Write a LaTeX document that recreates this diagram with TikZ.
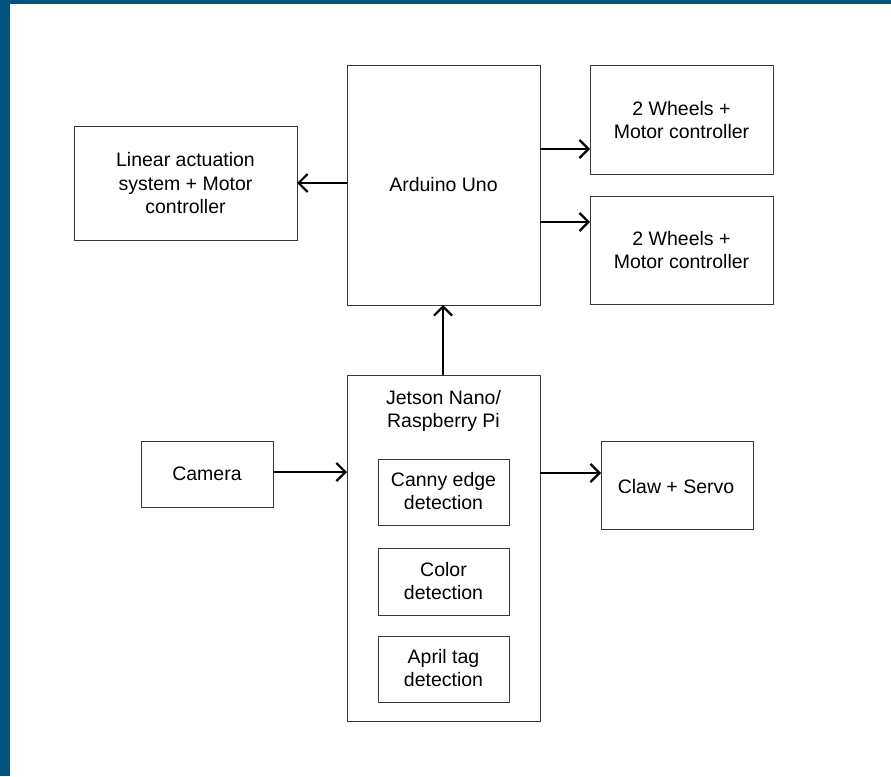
\documentclass[tikz,border=0pt]{standalone}
\usepackage{fontspec}
\setmainfont{Liberation Sans}
\usetikzlibrary{arrows.meta}
\definecolor{frameblue}{RGB}{4,84,128}
\definecolor{boxline}{RGB}{55,55,55}
\tikzset{
  blk/.style={draw=boxline, line width=0.9pt, fill=white},
  lbl/.style={font=\fontsize{19.5}{23.5}\selectfont, align=center, text=black, inner sep=0pt},
  conn/.style={line width=2.2pt, -{Straight Barb[length=9pt,width=18pt,line width=2.2pt]}}
}
\begin{document}
\begin{tikzpicture}[x=1pt,y=-1pt]
\useasboundingbox (0,0) rectangle (891,776);
\fill[white] (0,0) rectangle (891,776);
\fill[frameblue] (0,0) rectangle (891,4);
\fill[frameblue] (0,0) rectangle (10,776);
% boxes
\draw[blk] (347,65) rectangle (540,305);
\node[lbl] (ard) at (443.5,185) {Arduino Uno};
\coordinate (ardL) at (347,183);
\coordinate (ardR1) at (540,149);
\coordinate (ardR2) at (540,222);
\coordinate (ardB) at (443,305);

\draw[blk] (74,126) rectangle (297,240);
\node[lbl] (lin) at (185.5,183.5) {Linear actuation\\system + Motor\\controller};
\coordinate (linR) at (297,183);

\draw[blk] (590,65) rectangle (773,174);
\node[lbl] (wh1) at (681.5,120) {2 Wheels +\\Motor controller};
\coordinate (wh1L) at (590,149);

\draw[blk] (590,196) rectangle (773,304);
\node[lbl] (wh2) at (681.5,250) {2 Wheels +\\Motor controller};
\coordinate (wh2L) at (590,222);

\draw[blk] (347,375) rectangle (540,721);
\node[lbl] (jet) at (443.5,411) {Jetson Nano/\\Raspberry Pi};
\coordinate (jetT) at (443,375);
\coordinate (jetL) at (347,472);
\coordinate (jetR) at (540,473);

\draw[blk] (378,459) rectangle (509,525);
\node[lbl] (can) at (443.5,491) {Canny edge\\detection};
\draw[blk] (378,548) rectangle (509,615);
\node[lbl] (col) at (443.5,581) {Color\\detection};
\draw[blk] (378,636) rectangle (509,702);
\node[lbl] (apr) at (443.5,668) {April tag\\detection};

\draw[blk] (141,441) rectangle (273,507);
\node[lbl] (cam) at (207,474) {Camera};
\coordinate (camR) at (273,472);

\draw[blk] (601,441) rectangle (753,529);
\node[lbl] (claw) at (676,487) {Claw + Servo};
\coordinate (clawL) at (601,473);

% connectors
\draw[conn] (ardL) -- (linR);
\draw[conn] (ardR1) -- (wh1L);
\draw[conn] (ardR2) -- (wh2L);
\draw[conn] (jetT) -- (ardB);
\draw[conn] (camR) -- (jetL);
\draw[conn] (jetR) -- (clawL);
\end{tikzpicture}
\end{document}
